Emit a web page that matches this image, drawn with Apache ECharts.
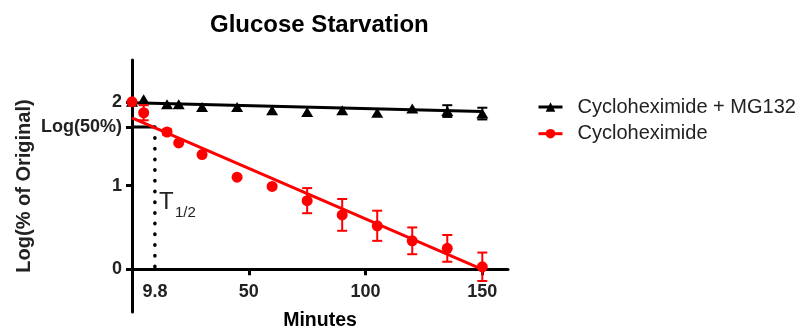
<!DOCTYPE html>
<html>
<head>
<meta charset="utf-8">
<script src="https://cdn.jsdelivr.net/npm/echarts@6/dist/echarts.min.js"></script>
<style>
html,body{margin:0;padding:0;background:#fff;}
#chart{width:801px;height:328px;}
</style>
</head>
<body>
<div id="chart"></div>
<script>
// ---- data ----
const minutes = [0, 5, 15, 20, 30, 45, 60, 75, 90, 105, 120, 135, 150];
const mg132Log = [2.0, 2.03, 1.97, 1.97, 1.94, 1.94, 1.90, 1.88, 1.90, 1.87, 1.92, 1.89, 1.86];
const mg132Err = [0, 0, 0, 0, 0, 0, 0, 0, 0, 0, 0, 0.07, 0.07];
const chxLog = [2.0, 1.87, 1.64, 1.51, 1.37, 1.10, 0.99, 0.82, 0.65, 0.52, 0.34, 0.25, 0.03];
const chxErr = [0, 0.09, 0.03, 0, 0, 0, 0, 0.15, 0.19, 0.18, 0.16, 0.16, 0.17];
const fitMinutes = [0, 150];
const mg132Fit = [1.99, 1.885];
const chxFit = [1.81, 0];
const halfLifeMin = 9.8;
const log50 = 1.699;
const xTickLabels = [9.8, 50, 100, 150];
const xTicks = [50, 100, 150];
const yTicks = [0, 1, 1.699, 2];
const seriesNames = ['Cycloheximide + MG132', 'Cycloheximide'];

const FONT = 'Liberation Sans, Arial, sans-serif';
const Y_MIN = -0.51, Y_MAX = 2.5;
const GRID = {left: 132, right: 293, top: 60, bottom: 16};
const chart = echarts.init(document.getElementById('chart'), null, {renderer: 'canvas'});
// distance (px) from the grid bottom up to the y = 0 line
const plotH = 328 - GRID.top - GRID.bottom;
const zeroOffset = plotH * (0 - Y_MIN) / (Y_MAX - Y_MIN);

function errBarSeries(name, vals, errs, color, z) {
  return {
    type: 'custom',
    name: name + ' err',
    z: z,
    silent: true,
    data: minutes.map((m, i) => [m, vals[i], errs[i]]),
    renderItem: function (params, api) {
      const x = api.value(0), y = api.value(1), e = api.value(2);
      if (!e) return null;
      const top = api.coord([x, y + e]);
      const bot = api.coord([x, y - e]);
      const hw = 5;
      const st = {stroke: color, lineWidth: 2};
      return {
        type: 'group',
        children: [
          {type: 'line', shape: {x1: top[0], y1: top[1], x2: bot[0], y2: bot[1]}, style: st},
          {type: 'line', shape: {x1: top[0] - hw, y1: top[1], x2: top[0] + hw, y2: top[1]}, style: st},
          {type: 'line', shape: {x1: bot[0] - hw, y1: bot[1], x2: bot[0] + hw, y2: bot[1]}, style: st}
        ]
      };
    }
  };
}

const option = {
  animation: false,
  title: {
    text: 'Glucose Starvation',
    left: 210, top: 13, padding: 0,
    textStyle: {fontFamily: FONT, fontWeight: 'bold', fontSize: 24, color: '#000'}
  },
  legend: {
    orient: 'vertical',
    left: 537, top: 97, padding: 0,
    itemWidth: 24, itemHeight: 12, itemGap: 6.7,
    textStyle: {fontFamily: FONT, fontSize: 20, color: '#222', lineHeight: 20, padding: [0, 0, 0, 10]},
    data: [
      {name: seriesNames[0], lineStyle: {width: 3, opacity: 1, color: '#000'}},
      {name: seriesNames[1], lineStyle: {width: 3, opacity: 1, color: '#f00'}}
    ]
  },
  grid: Object.assign({outerBoundsMode: 'none'}, GRID),
  xAxis: {
    type: 'value', min: 0, max: 161,
    position: 'bottom', offset: -zeroOffset,
    name: 'Minutes', nameLocation: 'middle', nameGap: 41,
    nameTextStyle: {fontFamily: FONT, fontWeight: 'bold', fontSize: 19.5, color: '#000'},
    axisLine: {onZero: false, lineStyle: {color: '#000', width: 3}},
    axisTick: {show: true, inside: false, length: 6, lineStyle: {color: '#000', width: 3}, customValues: xTicks},
    axisLabel: {
      margin: 14, fontFamily: FONT, fontWeight: 'bold', fontSize: 18, color: '#222',
      customValues: xTickLabels,
      formatter: v => String(v)
    },
    splitLine: {show: false}
  },
  yAxis: {
    type: 'value', min: Y_MIN, max: Y_MAX,
    name: 'Log(% of Original)', nameLocation: 'middle', nameGap: 98, nameRotate: 90,
    nameTextStyle: {fontFamily: FONT, fontWeight: 'bold', fontSize: 20, color: '#222'},
    axisLine: {onZero: false, lineStyle: {color: '#000', width: 3}},
    axisTick: {show: true, length: 6, lineStyle: {color: '#000', width: 3}, customValues: yTicks},
    axisLabel: {
      margin: 10, fontFamily: FONT, fontWeight: 'bold', fontSize: 18, color: '#222',
      customValues: yTicks,
      formatter: v => (Math.abs(v - log50) < 1e-6 ? 'Log(50%)' : String(v))
    },
    splitLine: {show: false}
  },
  graphic: [
    {type: 'text', left: 159, top: 190, style: {text: 'T', fontFamily: FONT, fontSize: 24, fill: '#222'}},
    {type: 'text', left: 175, top: 205, style: {text: '1/2', fontFamily: FONT, fontSize: 15, fill: '#222'}}
  ],
  series: [
    {
      type: 'line', name: 'half-life level', silent: true, z: 3,
      symbol: 'none',
      data: [[0, log50], [halfLifeMin, log50]],
      lineStyle: {color: '#000', width: 3}
    },
    {
      type: 'line', name: 'half-life drop', silent: true, z: 3,
      symbol: 'none',
      data: [[halfLifeMin, log50], [halfLifeMin, 0]],
      lineStyle: {color: '#000', width: 3.5, type: [0.5, 10.2], cap: 'round'}
    },
    {
      type: 'line', name: 'mg132 fit', silent: true, z: 4, symbol: 'none',
      data: fitMinutes.map((m, i) => [m, mg132Fit[i]]),
      lineStyle: {color: '#000', width: 3}
    },
    errBarSeries('mg132', mg132Log, mg132Err, '#000', 4),
    {
      type: 'line', name: seriesNames[0], z: 5,
      symbol: 'triangle', symbolSize: [12, 10],
      itemStyle: {color: '#000'},
      lineStyle: {width: 0, opacity: 0, color: '#000'},
      data: minutes.map((m, i) => [m, mg132Log[i]])
    },
    {
      type: 'line', name: 'chx fit', silent: true, z: 6, symbol: 'none',
      data: fitMinutes.map((m, i) => [m, chxFit[i]]),
      lineStyle: {color: '#f00', width: 3}
    },
    errBarSeries('chx', chxLog, chxErr, '#f00', 6),
    {
      type: 'line', name: seriesNames[1], z: 7,
      symbol: 'circle', symbolSize: 11,
      itemStyle: {color: '#f00'},
      lineStyle: {width: 0, opacity: 0, color: '#f00'},
      data: minutes.map((m, i) => [m, chxLog[i]])
    }
  ]
};
chart.setOption(option);
</script>
</body>
</html>
